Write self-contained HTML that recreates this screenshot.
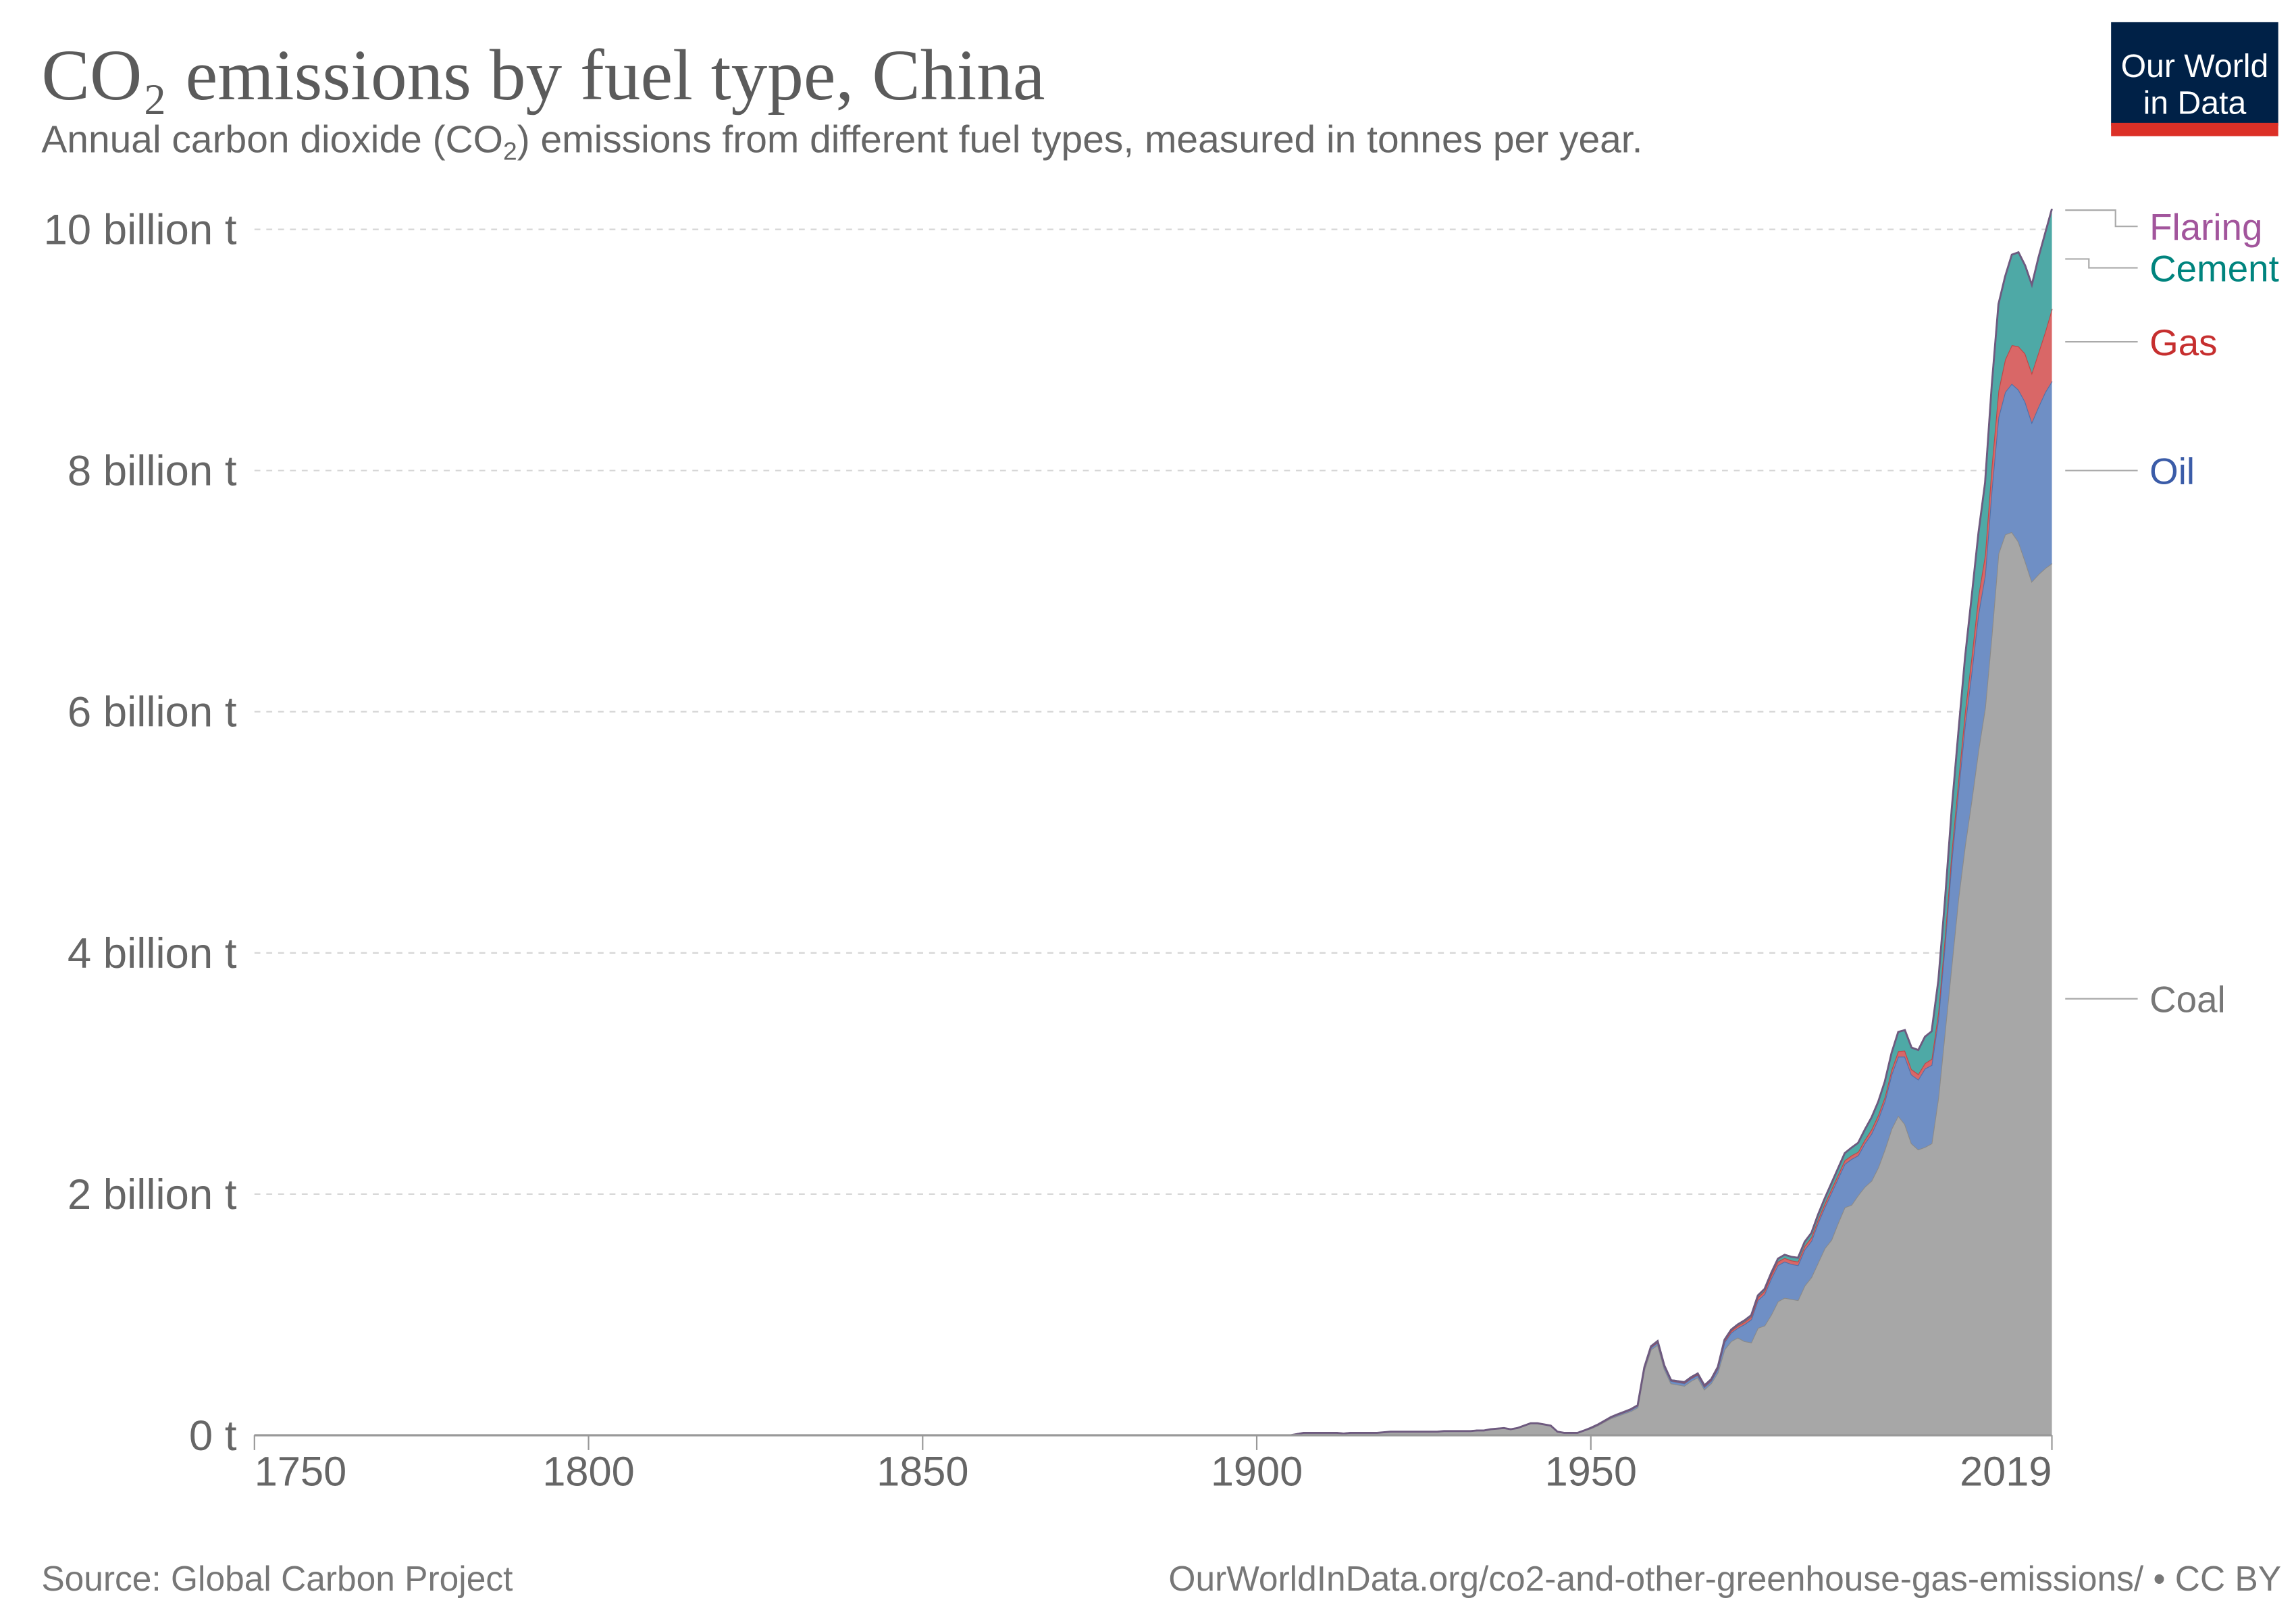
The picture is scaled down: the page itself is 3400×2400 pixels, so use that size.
<!DOCTYPE html>
<html><head><meta charset="utf-8"><style>
html,body{margin:0;padding:0;background:#fff;}
svg{display:block;}
text{font-family:"Liberation Sans",sans-serif;}
</style></head><body>
<svg id="chart" width="3400" height="2400" viewBox="0 0 1552 1095.5" xmlns="http://www.w3.org/2000/svg">
<rect x="0" y="0" width="1552" height="1095.5" fill="#fff"/>
<text x="28" y="67" style="font-family:'Liberation Serif',serif" font-size="49" fill="#5b5b5b">CO₂ emissions by fuel type, China</text>
<text x="28" y="103" font-size="26" fill="#666">Annual carbon dioxide (CO<tspan font-size="17" dy="5">2</tspan><tspan dy="-5">) emissions from different fuel types, measured in tonnes per year.</tspan></text>
<g>
<rect x="1427" y="15" width="113" height="70" fill="#002147"/>
<rect x="1427" y="83" width="113" height="9" fill="#dc3027"/>
<text x="1483.5" y="52" text-anchor="middle" font-size="22" fill="#fff">Our World</text>
<text x="1483.5" y="77" text-anchor="middle" font-size="22" fill="#fff">in Data</text>
</g>
<g id="grid"></g>
<g id="yaxis"></g>
<g id="areas"></g>
<g id="xaxis"></g>
<g id="legend"></g>
<text x="28" y="1075" font-size="23.5" fill="#777">Source: Global Carbon Project</text>
<text x="1542" y="1075" text-anchor="end" font-size="23.5" fill="#777">OurWorldInData.org/co2-and-other-greenhouse-gas-emissions/ • CC BY</text>
</svg>
<script>
// data: billions of tonnes, years 1900..2019
var startYear = 1900;
var coal = [0,0,0,0,0,0,0.01,0.02,0.02,0.02,0.02,0.02,0.02,0.015,0.02,0.02,0.02,0.02,0.02,0.025,
0.03,0.03,0.03,0.03,0.03,0.03,0.03,0.03,0.035,0.035,0.035,0.035,0.035,0.04,0.04,0.05,0.055,0.06,0.05,0.06,
0.08,0.1,0.1,0.09,0.08,0.03,0.02,0.02,0.02,0.04,
0.055,0.08,0.11,0.14,0.16,0.18,0.20,0.23,0.54,0.71,0.75,0.55,0.43,0.42,0.41,0.45,0.48,0.38,0.43,0.52,
0.71,0.78,0.81,0.78,0.77,0.89,0.91,1.00,1.11,1.14,1.13,1.12,1.24,1.31,1.43,1.55,1.62,1.76,1.89,1.91,
1.99,2.06,2.11,2.22,2.37,2.54,2.65,2.58,2.42,2.37,2.39,2.42,2.80,3.35,3.90,4.45,4.89,5.27,5.68,6.03,
6.64,7.31,7.47,7.49,7.41,7.25,7.08,7.14,7.19,7.23];
var oil = [0,0,0,0,0,0,0,0,0,0,0,0,0,0,0,0,0,0,0,0,
0,0,0,0,0,0,0,0,0,0,0,0,0,0,0,0,0,0,0,0,
0,0,0,0,0,0,0,0,0,0,
0.005,0.005,0.006,0.008,0.01,0.01,0.012,0.014,0.016,0.018,0.02,0.02,0.02,0.02,0.02,0.02,0.02,0.02,0.02,0.03,
0.06,0.07,0.08,0.14,0.19,0.23,0.26,0.30,0.30,0.30,0.29,0.29,0.30,0.30,0.33,0.34,0.39,0.37,0.36,0.38,
0.33,0.36,0.39,0.40,0.40,0.45,0.49,0.56,0.57,0.58,0.65,0.65,0.65,0.72,0.86,0.89,1.00,1.06,1.13,1.10,
1.20,1.13,1.18,1.23,1.26,1.32,1.32,1.39,1.46,1.51];
var gas = [0,0,0,0,0,0,0,0,0,0,0,0,0,0,0,0,0,0,0,0,
0,0,0,0,0,0,0,0,0,0,0,0,0,0,0,0,0,0,0,0,
0,0,0,0,0,0,0,0,0,0,
0.001,0.001,0.001,0.001,0.001,0.002,0.002,0.002,0.003,0.004,0.005,0.005,0.005,0.005,0.006,0.006,0.007,0.008,0.009,0.01,
0.012,0.015,0.018,0.02,0.022,0.024,0.026,0.028,0.03,0.03,0.03,0.03,0.03,0.03,0.03,0.03,0.03,0.03,0.03,0.03,
0.03,0.03,0.035,0.035,0.035,0.04,0.045,0.05,0.045,0.045,0.045,0.05,0.06,0.07,0.08,0.09,0.11,0.13,0.15,0.17,
0.20,0.22,0.27,0.32,0.36,0.40,0.41,0.45,0.50,0.60];
var cement = [0,0,0,0,0,0,0,0,0,0,0,0,0,0,0,0,0,0,0,0,
0,0,0,0,0,0,0,0,0,0,0,0,0,0,0,0,0,0,0,0,
0,0,0,0,0,0,0,0,0,0,
0.001,0.002,0.002,0.002,0.003,0.003,0.003,0.003,0.005,0.006,0.007,0.004,0.003,0.004,0.005,0.006,0.006,0.006,0.006,0.007,
0.01,0.011,0.012,0.013,0.014,0.016,0.018,0.02,0.025,0.027,0.03,0.032,0.035,0.038,0.04,0.045,0.05,0.055,0.06,0.065,
0.075,0.085,0.1,0.11,0.13,0.14,0.16,0.17,0.18,0.20,0.22,0.23,0.26,0.30,0.35,0.40,0.45,0.50,0.52,0.60,
0.67,0.72,0.69,0.75,0.78,0.73,0.73,0.79,0.82,0.83];
var flaring = [0,0,0,0,0,0,0,0,0,0,0,0,0,0,0,0,0,0,0,0,
0,0,0,0,0,0,0,0,0,0,0,0,0,0,0,0,0,0,0,0,
0,0,0,0,0,0,0,0,0,0,
0,0,0,0,0,0,0,0,0,0,0,0,0,0,0,0,0,0,0,0,
0,0,0,0,0,0,0,0,0,0,0,0,0,0,0,0,0,0,0,0,
0,0,0,0,0,0,0,0,0,0,0,0,0,0,0,0,0,0,0,0,
0,0,0,0,0,0,0,0,0,0];
var yTicks = [0,2,4,6,8,10];
var yTickLabels = ["0 t","2 billion t","4 billion t","6 billion t","8 billion t","10 billion t"];
var xTicks = [1750,1800,1850,1900,1950,2019];
var seriesNames = ["Coal","Oil","Gas","Cement","Flaring"];

var NS = "http://www.w3.org/2000/svg";
var X0 = 172, X1 = 1387, Y0 = 970, PXB = 81.5, MINY = 1750, MAXY = 2019;
function xs(yr){ return X0 + (yr - MINY) * (X1 - X0) / (MAXY - MINY); }
function ys(v){ return Y0 - v * PXB; }
function mk(tag, attrs, parent){ var e = document.createElementNS(NS, tag); for (var k in attrs) e.setAttribute(k, attrs[k]); parent.appendChild(e); return e; }

var grid = document.getElementById('grid'), yaxis = document.getElementById('yaxis');
yTicks.forEach(function(v, i){
  if (v > 0) {
    var l = mk('line', {x1: X0, x2: X1, y1: ys(v), y2: ys(v), stroke: '#d6d6d6', 'stroke-width': 1, 'stroke-dasharray': '4,4'}, grid);
    
    
  }
  var t = mk('text', {x: 160, y: ys(v) + 10, 'text-anchor': 'end', 'font-size': 29, fill: '#666'}, yaxis);
  t.textContent = yTickLabels[i];
  
  
});

var layers = [
 {name: 'coal', data: coal, fill: '#a7a7a7', stroke: '#8a8a8a'},
 {name: 'oil', data: oil, fill: '#6f8fc5', stroke: '#5070a8'},
 {name: 'gas', data: gas, fill: '#d96767', stroke: '#c04545'},
 {name: 'cement', data: cement, fill: '#4ea9a6', stroke: '#2f8884'},
 {name: 'flaring', data: flaring, fill: '#a2559c', stroke: '#6e4f7d'}
];
var areas = document.getElementById('areas');
var n = coal.length;
var base = [];
for (var i = 0; i < n; i++) base.push(0);
layers.forEach(function(L){
  var top = base.map(function(b, i){ return b + L.data[i]; });
  var d = 'M' + xs(MINY) + ',' + ys(0) + ' L' + xs(startYear - 1) + ',' + ys(0);
  for (var i = 0; i < n; i++) d += ' L' + xs(startYear + i).toFixed(2) + ',' + ys(top[i]).toFixed(2);
  for (var i = n - 1; i >= 0; i--) d += ' L' + xs(startYear + i).toFixed(2) + ',' + ys(base[i]).toFixed(2);
  d += ' Z';
  var p = mk('path', {d: d, fill: L.fill, stroke: 'none'}, areas);
  
  
  var ld = 'M' + xs(MINY) + ',' + ys(0) + ' L' + xs(startYear - 1) + ',' + ys(0);
  for (var i = 0; i < n; i++) ld += ' L' + xs(startYear + i).toFixed(2) + ',' + ys(top[i]).toFixed(2);
  var ln = mk('path', {d: ld, fill: 'none', stroke: L.stroke, 'stroke-width': 1}, areas);
  
  
  base = top;
});
var topLine = mk('path', {d: '', fill: 'none', stroke: '#6e5a7f', 'stroke-width': 1.3}, areas);
var td = 'M' + xs(MINY) + ',' + ys(0) + ' L' + xs(startYear - 1) + ',' + ys(0);
for (var i = 0; i < n; i++) td += ' L' + xs(startYear + i).toFixed(2) + ',' + ys(base[i]).toFixed(2);
topLine.setAttribute('d', td);



var xaxis = document.getElementById('xaxis');
mk('line', {x1: X0, x2: X1, y1: Y0, y2: Y0, stroke: '#999', 'stroke-width': 1.5}, xaxis);
xTicks.forEach(function(yr, i){
  var tk = mk('line', {x1: xs(yr), x2: xs(yr), y1: Y0, y2: Y0 + 10, stroke: '#999', 'stroke-width': 1}, xaxis);
  
  
  var anchor = i === 0 ? 'start' : (i === xTicks.length - 1 ? 'end' : 'middle');
  var t = mk('text', {x: xs(yr), y: 1004, 'text-anchor': anchor, 'font-size': 28, fill: '#666'}, xaxis);
  t.textContent = String(yr);
  
  
});

var legend = document.getElementById('legend');
var legendItems = [
 {label: 'Flaring', color: '#a2559c', y: 153, path: 'M1396,142 H1430 V153 H1445'},
 {label: 'Cement', color: '#00847e', y: 181, path: 'M1396,175 H1412 V181 H1445'},
 {label: 'Gas', color: '#c62f2f', y: 231, path: 'M1396,231 H1445'},
 {label: 'Oil', color: '#3b5ca8', y: 318, path: 'M1396,318 H1445'},
 {label: 'Coal', color: '#777', y: 675, path: 'M1396,675 H1445'}
];
legendItems.forEach(function(it){
  var g = mk('g', {}, legend);
  
  
  mk('path', {d: it.path, fill: 'none', stroke: '#aaa', 'stroke-width': 1}, g);
  var t = mk('text', {x: 1453, y: it.y + 9, 'font-size': 25, fill: it.color}, g);
  t.textContent = it.label;
});
</script>
</body></html>
